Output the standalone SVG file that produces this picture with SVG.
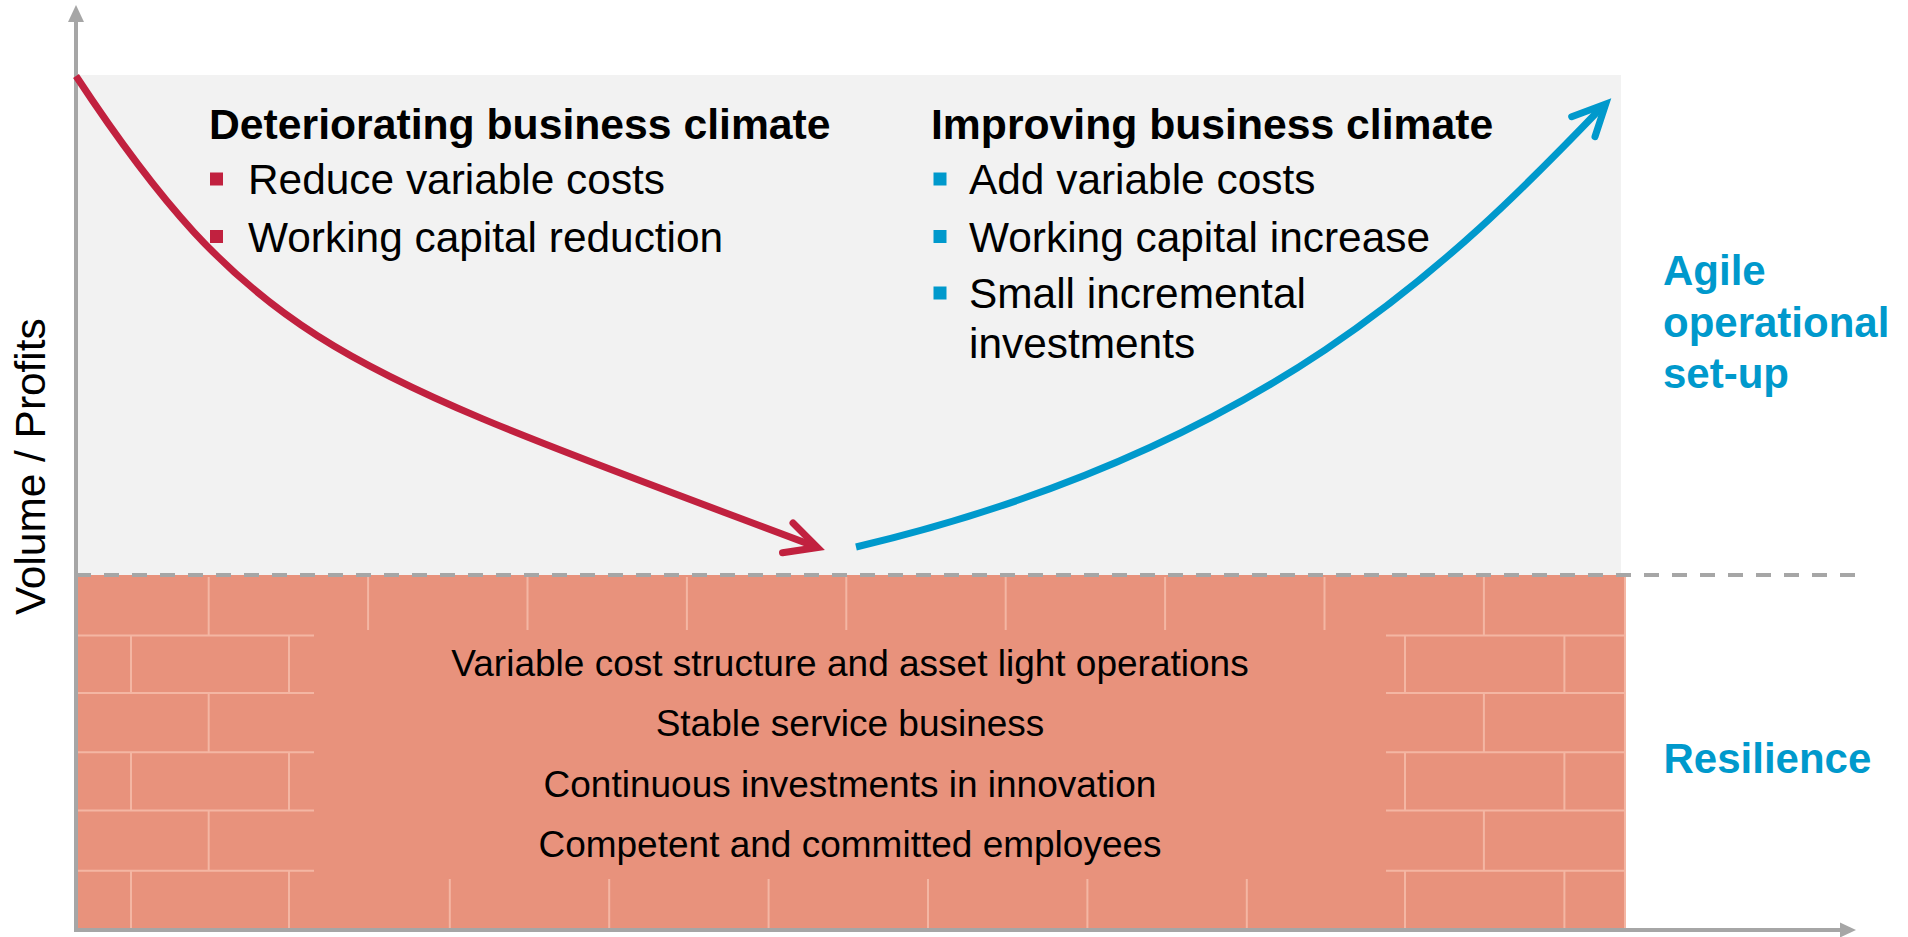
<svg xmlns="http://www.w3.org/2000/svg" width="1908" height="937" viewBox="0 0 1908 937">
<defs>
<style>
.t{font-family:"Liberation Sans",Arial,sans-serif;fill:#000}
.h{font-size:42.7px;font-weight:bold}
.b{font-size:42.4px}
.c{font-size:37px;text-anchor:middle}
.lbl{font-family:"Liberation Sans",Arial,sans-serif;font-size:42px;font-weight:bold;fill:#0099cc}
.br{stroke:#f4b6a3;stroke-width:2;fill:none}
.ax{stroke:#a6a6a6;stroke-width:4;fill:none}
.red{fill:#c1213f}
.blue{fill:#0099cc}
</style>
</defs>
<rect id="bg" x="0" y="0" width="1908" height="937" fill="#ffffff"/>
<g id="upper-zone">
<rect x="76" y="75" width="1545" height="500" fill="#f2f2f2"/>
</g>
<g id="wall">
<rect x="76" y="575" width="1549" height="355" fill="#e8927c"/>
<line class="br" x1="1625" y1="577" x2="1625" y2="930"/>
<g id="wall-left">
<path class="br" d="M76 635.5H314M76 693H314M76 752.3H314M76 810.5H314M76 870.7H314"/>
<path class="br" d="M208.7 577V635.5M131 635.5V693M289 635.5V693M208.7 693V752.3M131 752.3V810.5M289 752.3V810.5M208.7 810.5V870.7M131 870.7V930M289 870.7V930"/>
</g>
<g id="wall-right">
<path class="br" d="M1386 635.5H1625M1386 693H1625M1386 752.3H1625M1386 810.5H1625M1386 870.7H1625"/>
<path class="br" d="M1483.9 577V635.5M1405 635.5V693M1564.4 635.5V693M1483.9 693V752.3M1405 752.3V810.5M1564.4 752.3V810.5M1483.9 810.5V870.7M1405 870.7V930M1564.4 870.7V930"/>
</g>
<g id="wall-mid">
<path class="br" d="M368.1 577V630M527.5 577V630M686.9 577V630M846.3 577V630M1005.7 577V630M1165.1 577V630M1324.5 577V630"/>
<path class="br" d="M449.8 879V930M609.2 879V930M768.6 879V930M928 879V930M1087.4 879V930M1246.8 879V930"/>
</g>
</g>
<g id="wall-text">
<text class="t c" x="850" y="675.5">Variable cost structure and asset light operations</text>
<text class="t c" x="850" y="736">Stable service business</text>
<text class="t c" x="850" y="796.5">Continuous investments in innovation</text>
<text class="t c" x="850" y="857">Competent and committed employees</text>
</g>
<g id="threshold">
<line x1="76" y1="575" x2="1855" y2="575" stroke="#a6a6a6" stroke-width="4" stroke-dasharray="15 13"/>
</g>
<g id="axes">
<line class="ax" x1="76" y1="931" x2="76" y2="20"/>
<polygon points="68,22 76,5 84,22" fill="#a6a6a6"/>
<line class="ax" x1="74" y1="930" x2="1842" y2="930"/>
<polygon points="1840,922.5 1856,930 1840,937.5" fill="#a6a6a6"/>
<text class="t b" transform="translate(45,466.7) rotate(-90)" text-anchor="middle">Volume / Profits</text>
</g>
<g id="deteriorating">
<text class="t h" x="209" y="139.3">Deteriorating business climate</text>
<rect class="red" x="210" y="172.5" width="13" height="13"/>
<text class="t b" x="248" y="194.3">Reduce variable costs</text>
<rect class="red" x="210" y="230" width="13" height="13"/>
<text class="t b" x="248" y="251.7">Working capital reduction</text>
</g>
<g id="improving">
<text class="t h" x="931" y="139.3">Improving business climate</text>
<rect class="blue" x="933.5" y="172.5" width="13" height="13"/>
<text class="t b" x="969" y="194.3">Add variable costs</text>
<rect class="blue" x="933.5" y="230" width="13" height="13"/>
<text class="t b" x="969" y="251.7">Working capital increase</text>
<rect class="blue" x="933.5" y="286.5" width="13" height="13"/>
<text class="t b" x="969" y="308.3">Small incremental</text>
<text class="t b" x="969" y="358.3">investments</text>
</g>
<g id="agile">
<text class="lbl" x="1663" y="285">Agile</text>
<text class="lbl" x="1663" y="336.7">operational</text>
<text class="lbl" x="1663" y="388">set-up</text>
</g>
<g id="resilience">
<text class="lbl" x="1663.5" y="772.7">Resilience</text>
</g>
<g id="connectors">
<path d="M76 76C257.5 351.6 347 370 814 546" fill="none" stroke="#c1213f" stroke-width="7"/>
<polyline points="793,523 817.5,547.5 782.5,552.7" fill="none" stroke="#c1213f" stroke-width="7" stroke-linecap="round" stroke-linejoin="miter"/>
<path d="M856 547C1263.4 450.4 1451 264.4 1602 107" fill="none" stroke="#0099cc" stroke-width="7"/>
<polyline points="1571.7,116.7 1605.7,104 1595,136.7" fill="none" stroke="#0099cc" stroke-width="7" stroke-linecap="round" stroke-linejoin="miter"/>
</g>
</svg>
